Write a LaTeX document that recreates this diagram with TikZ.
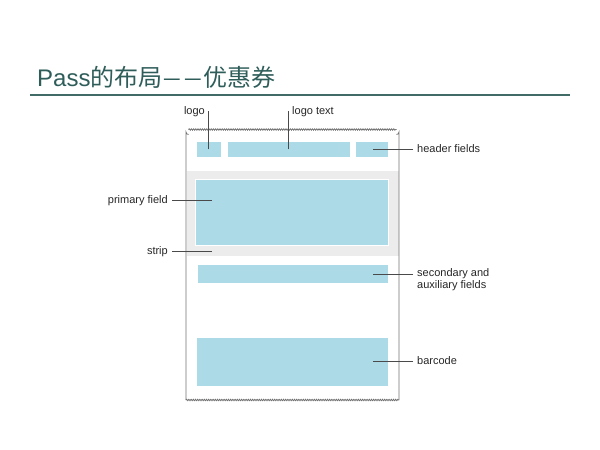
\documentclass[tikz,border=0pt]{standalone}
\usepackage{fontspec}
\usepackage{graphicx}
\setmainfont{Liberation Sans}
\newfontfamily\cjk{Noto Sans CJK SC}
\usetikzlibrary{decorations.pathmorphing}

\definecolor{titleteal}{HTML}{2F5E5A}
\definecolor{fieldblue}{HTML}{ADDAE7}
\definecolor{stripgray}{HTML}{ECECED}
\definecolor{cardgray}{HTML}{707070}
\definecolor{leadgray}{HTML}{4A4A4A}

\newcommand{\titledash}{\makebox[0.85em]{\scalebox{0.82}[1]{—}}}

\begin{document}
\begin{tikzpicture}[x=1pt, y=-1pt,
    field/.style={fill=fieldblue, draw=white, line width=0.5pt, anchor=north west, inner sep=0pt},
    lead/.style={draw=leadgray, line width=1pt},
    lbl/.style={font=\fontsize{11}{12.5}\selectfont, text=black!85, inner xsep=4pt, inner ysep=0pt, text height=8pt, text depth=2pt},
    edge/.style={draw=cardgray, line width=0.8pt}]
    \useasboundingbox (0,0) rectangle (600,450);

    % Title
    \node[anchor=base west, inner sep=0pt, text=titleteal, font=\fontsize{24}{24}\selectfont] (title) at (37,86.5) {Pass\cjk 的布局\titledash\titledash 优惠券};
    \draw[titleteal!92, line width=2.6pt] (30,95) -- (570,95);

    % Card
    \node[fill=stripgray, anchor=north west, inner sep=0pt, minimum width=212, minimum height=85] (strip) at (186.5,171) {};
    \draw[edge] (186,400) -- (186,132) arc[start angle=180, end angle=90, radius=2.5];
    \draw[edge] (399,400) -- (399,132) arc[start angle=0, end angle=90, radius=2.5];
    \draw[edge, decorate, decoration={snake, amplitude=0.7pt, segment length=2.2pt}] (188.5,129.5) -- (396.5,129.5);
    \draw[edge, decorate, decoration={snake, amplitude=0.7pt, segment length=2.2pt}] (186,400) -- (399,400);

    % Fields
    \node[field, minimum width=25, minimum height=16] (logo) at (196,141) {};
    \node[field, minimum width=123, minimum height=16] (logotext) at (227,141) {};
    \node[field, minimum width=33, minimum height=16] (header) at (355,141) {};
    \node[field, minimum width=193, minimum height=66] (primary) at (195,179) {};
    \node[field, minimum width=191, minimum height=19] (secondary) at (197,264) {};
    \node[field, minimum width=192, minimum height=49] (barcode) at (196,337) {};

    % Leader ends
    \coordinate (pPrimary) at (212,200);
    \coordinate (pStrip) at (212,251);
    \coordinate (pSecondary) at (373,274);

    % Labels
    \node[lbl, anchor=east] (lLogo) at (209,111) {logo};
    \node[lbl, anchor=west] (lLogoText) at (288,111) {logo text};
    \node[lbl, anchor=west] (lHeader) at (413,149) {header fields};
    \node[lbl, anchor=east] (lPrimary) at (172,200) {primary field};
    \node[lbl, anchor=east] (lStrip) at (172,251) {strip};
    \node[lbl, anchor=north west, align=left, text height=, text depth=] (lSecondary) at (413,268) {secondary and\\auxiliary fields};
    \node[lbl, anchor=west] (lBarcode) at (413,361) {barcode};

    % Leaders
    \draw[lead] (logo.center) -- (logo.center |- lLogo.east);
    \draw[lead] (logotext.center) -- (logotext.center |- lLogoText.west);
    \draw[lead] (lHeader.west) -- (lHeader.west -| 373,0);
    \draw[lead] (lPrimary.east) -- (pPrimary);
    \draw[lead] (lStrip.east) -- (pStrip);
    \draw[lead] (lSecondary.north west) ++(0,6) -- (pSecondary);
    \draw[lead] (lBarcode.west) -- (lBarcode.west -| 373,0);
\end{tikzpicture}
\end{document}
